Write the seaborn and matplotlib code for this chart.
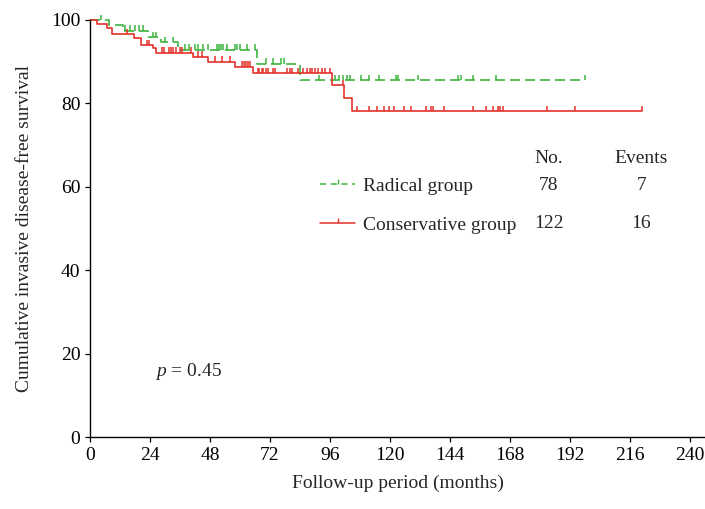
import numpy as np
import pandas as pd
import matplotlib
matplotlib.use("Agg")
import matplotlib.pyplot as plt
from matplotlib.path import Path
from matplotlib.lines import Line2D
import seaborn as sns

# Dati (mesi, sopravvivenza %)
groups = ["Radical group", "Conservative group"]
group_n = [78, 122]
group_events = [7, 16]

radical_t = [0, 7.7, 13, 23, 28.5, 35, 66.7, 84]
radical_s = [100, 98.7, 97.4, 95.9, 94.7, 92.9, 89.5, 85.6]
radical_end = 198
radical_cens = [4.5, 14, 16, 18, 19.5, 21, 25, 26.5, 30, 33, 38, 39.5, 42, 43.3,
                45.3, 47.3, 50.9, 51.7, 52.4, 53.3, 54.7, 58, 58.7, 60, 62.7, 66,
                70.5, 73.3, 76.5, 77.5, 91.7, 98, 99.7, 101.3, 102.9, 104, 108.4,
                111.7, 115.7, 122.4, 123.3, 131.3, 147.3, 148.3, 153.1, 162.3, 198]

conserv_t = [0, 2.7, 6.7, 8.7, 17.7, 20.4, 25.3, 26.4, 41.3, 47, 58, 65, 96.7, 101.7, 104.7]
conserv_s = [100, 99.0, 98.2, 96.6, 95.6, 94.0, 93.2, 92.2, 91.2, 90.0, 88.8, 87.2, 84.4, 81.2, 78.2]
conserv_end = 220.7
conserv_cens = [14.7, 22.7, 23.6, 28.7, 29.6, 31.6, 32.4, 33.3, 34.3, 36, 36.9, 40.4,
                43.3, 44.9, 50, 52.7, 56, 60.7, 61.6, 62.4, 63.3, 64, 67, 67.7, 68.7,
                69.3, 70.4, 71.3, 73.3, 74, 78.7, 80, 80.7, 83.3, 85.3, 86.7, 88, 88.7,
                90, 91.3, 92.7, 94, 96, 101, 106.7, 111.6, 114.7, 117.7, 119.6, 121.7,
                125.6, 128.4, 134.4, 136.4, 137.3, 141.5, 153.1, 158.3, 161.1, 163.1,
                164, 165.1, 182.9, 193.9, 220.7]

x_ticks = list(range(0, 241, 24))
y_ticks = list(range(0, 101, 20))

GREEN = "#3cb43c"
RED = "#e4312a"

sns.set_style("ticks")
plt.rcParams["font.family"] = ["Liberation Serif", "DejaVu Serif"]
plt.rcParams["mathtext.fontset"] = "custom"
plt.rcParams["mathtext.rm"] = "Liberation Serif"
plt.rcParams["mathtext.it"] = "Liberation Serif:italic"
plt.rcParams["font.size"] = 14

# marker di censura: trattino verticale verso l'alto
tick = Path([(0, 0), (0, 1)], [Path.MOVETO, Path.LINETO])


def km_frames(t, s, end, cens):
    steps = pd.DataFrame({"t": list(t) + [end], "s": list(s) + [s[-1]]})
    idx = np.searchsorted(np.array(t), np.array(cens), side="right") - 1
    marks = pd.DataFrame({"t": cens, "s": np.array(s)[idx]})
    return steps, marks


fig = plt.figure(figsize=(7.05, 5.09), dpi=100)
ax = fig.add_axes([90 / 705, 72 / 509, 615 / 705, 417 / 509])

series = [
    (radical_t, radical_s, radical_end, radical_cens, GREEN, (0, (6, 3))),
    (conserv_t, conserv_s, conserv_end, conserv_cens, RED, "-"),
]
for t, s, end, cens, col, ls in series:
    steps, marks = km_frames(t, s, end, cens)
    sns.lineplot(data=steps, x="t", y="s", ax=ax, color=col, linewidth=1.2,
                 linestyle=ls, drawstyle="steps-post", estimator=None, sort=False,
                 clip_on=False)
    sns.scatterplot(data=marks, x="t", y="s", ax=ax, marker=tick, s=60,
                    color=col, facecolor="none", edgecolor=col, linewidth=1.1,
                    clip_on=False, zorder=3)

ax.set_xlim(0, 246)
ax.set_ylim(0, 100)
ax.set_xticks(x_ticks)
ax.set_yticks(y_ticks)
ax.tick_params(direction="out", length=3.5, width=0.9, colors="black", labelsize=14)
sns.despine(ax=ax)
for sp in ["left", "bottom"]:
    ax.spines[sp].set_color("black")
    ax.spines[sp].set_linewidth(1.0)

ax.set_xlabel("Follow-up period (months)", fontsize=14, labelpad=8)
ax.set_ylabel("Cumulative invasive disease-free survival", fontsize=14, labelpad=13)

# legenda con colonne No. / Events
handles = [
    Line2D([0], [0], color=GREEN, linewidth=1.1, linestyle=(0, (4, 3)),
           marker=tick, markersize=7.5, markeredgewidth=1.0),
    Line2D([0], [0], color=RED, linewidth=1.1, marker=tick, markersize=7.5,
           markeredgewidth=1.0),
]
ax.legend(handles, groups, loc="upper left", bbox_to_anchor=(0.374, 0.623),
          frameon=False, fontsize=14, handlelength=1.8, handletextpad=0.4,
          borderpad=0, borderaxespad=0, labelspacing=1.1)

row_y = [60.4, 51.1]
ax.text(183.6, 66.9, "No.", ha="center", va="center", fontsize=14)
ax.text(220.5, 66.9, "Events", ha="center", va="center", fontsize=14)
for yv, n, ev in zip(row_y, group_n, group_events):
    ax.text(183.6, yv, str(n), ha="center", va="center", fontsize=14)
    ax.text(220.5, yv, str(ev), ha="center", va="center", fontsize=14)

ax.text(26, 15.6, r"$\it{p}$ = 0.45", ha="left", va="center", fontsize=14)

fig.savefig("out.png", dpi=100)
